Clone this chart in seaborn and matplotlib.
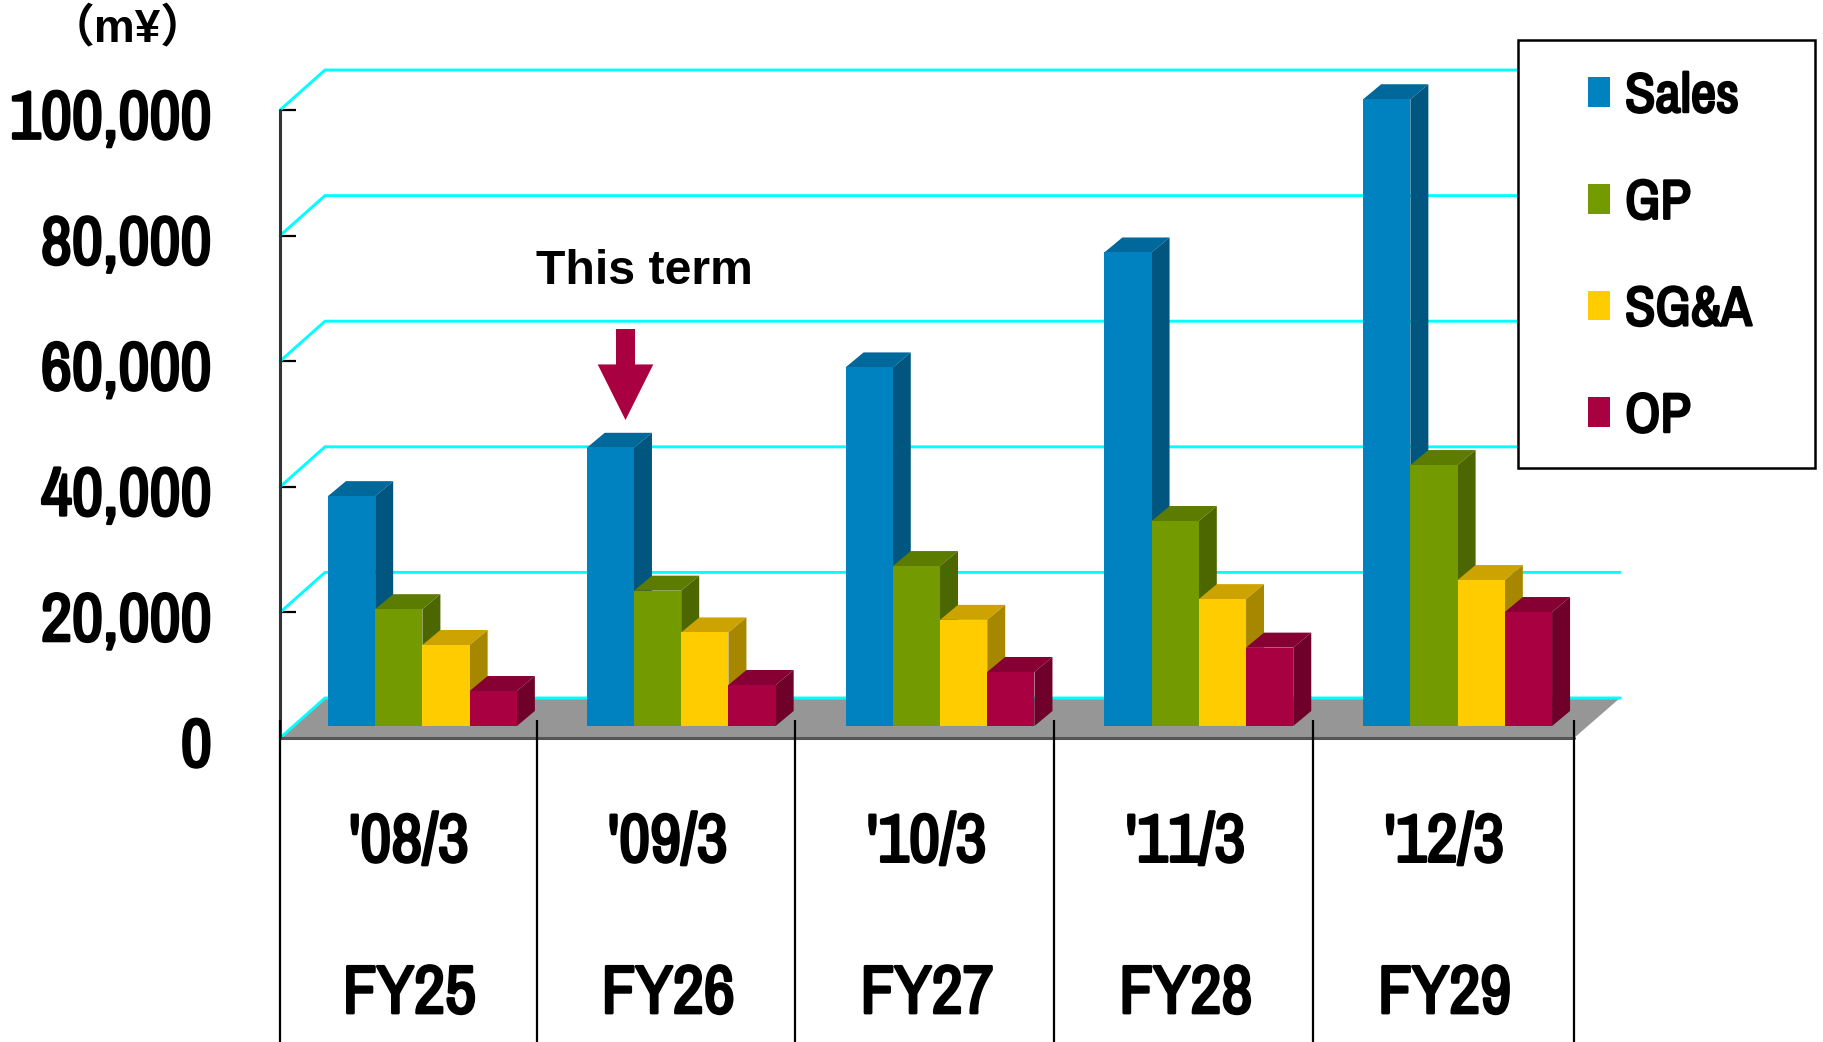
import matplotlib
matplotlib.use('Agg')
import matplotlib.pyplot as plt
import matplotlib.font_manager as fm
import matplotlib.patheffects as pe
from matplotlib.colors import to_rgb
from matplotlib.patches import Polygon, Rectangle
from matplotlib.transforms import Affine2D
import pandas as pd
import seaborn as sns

periods = ["'08/3", "'09/3", "'10/3", "'11/3", "'12/3"]
fiscal_years = ['FY25', 'FY26', 'FY27', 'FY28', 'FY29']
sales = [36600, 44300, 57100, 75400, 99800]
gp = [18600, 21550, 25470, 32640, 41550]
sga = [12900, 14900, 16900, 20200, 23240]
op = [5570, 6530, 8600, 12480, 18150]
series_names = ['Sales', 'GP', 'SG&A', 'OP']
series_colors = ['#0082C0', '#739B00', '#FFCC00', '#A80040']
y_ticks = [0, 20000, 40000, 60000, 80000, 100000]

df = pd.DataFrame({'period': periods, 'Sales': sales, 'GP': gp, 'SG&A': sga, 'OP': op})
long_df = df.melt(id_vars='period', var_name='series', value_name='value')

sns.set_theme(style='white')
# the labels in the original are a squeezed bold Arial, Archivo Narrow only has a regular
# weight here so it gets a stroke further down
names = {f.name for f in fm.fontManager.ttflist}
narrow = 'Archivo Narrow' if 'Archivo Narrow' in names else 'Liberation Sans'
plt.rcParams['font.family'] = narrow
plt.rcParams['text.color'] = 'black'
plt.rcParams['xtick.labelcolor'] = 'black'
plt.rcParams['ytick.labelcolor'] = 'black'


def embolden(text, lw=2.0):
    if narrow == 'Archivo Narrow':
        text.set_path_effects([pe.withStroke(linewidth=lw, foreground='black')])
    else:
        text.set_fontweight('bold')


W, H = 1823, 1042
fig = plt.figure(figsize=(W / 100, H / 100), dpi=100)
ax = fig.add_axes([280 / W, 1 - 738 / H, (1574 - 280) / W, (738 - 110) / H])

sns.barplot(data=long_df, x='period', y='value', hue='series', hue_order=series_names,
            palette=series_colors, width=0.73, saturation=1, linewidth=0, ax=ax)
ax.set_xlim(-0.5, 4.5)
ax.set_ylim(0, 100000)
ax.set_xlabel('')
ax.set_ylabel('')

px_x = 5 / 1294      # data units of one pixel
px_y = 100000 / 628
front_dx, front_dy = 13 * px_x, 12 * px_y     # bars stand a little behind the front edge
bar_dx, bar_dy = 18 * px_x, 15 * px_y         # depth of a bar
wall_dx, wall_dy = 45 * px_x, 40 * px_y       # depth of the floor
wall_right = -0.5 + 1340 * px_x


def shade(color, k):
    return tuple(c * k for c in to_rgb(color))


# floor and back wall lines
ax.add_patch(Polygon([(-0.5, 0), (4.5, 0), (wall_right, wall_dy), (-0.5 + wall_dx, wall_dy)],
                     closed=True, fc='#969696', ec='none', zorder=1, clip_on=False))
for v in y_ticks:
    ax.plot([-0.5, -0.5 + wall_dx, wall_right], [v, v + wall_dy, v + wall_dy],
            color='#00FFFF', lw=2.1, zorder=0.9 if v else 1.1, clip_on=False, solid_joinstyle='miter')
ax.plot([-0.5, 4.5], [0, 0], color='#555555', lw=2.2, zorder=1.2, clip_on=False)

# front faces come from seaborn, the top and side faces are built on them
for i, name in enumerate(series_names):
    container = ax.containers[i]
    for bar in container:
        bar.set_x(bar.get_x() + front_dx)
        bar.set_y(front_dy)
        bar.set_zorder(3 + i)
        bar.set_clip_on(False)
        x0, x1 = bar.get_x(), bar.get_x() + bar.get_width()
        y0, y1 = front_dy, front_dy + bar.get_height()
        ax.add_patch(Polygon([(x0, y1), (x1, y1), (x1 + bar_dx, y1 + bar_dy), (x0 + bar_dx, y1 + bar_dy)],
                             closed=True, fc=shade(series_colors[i], 0.8), ec='none', zorder=2.9 + i, clip_on=False))
        ax.add_patch(Polygon([(x1, y0), (x1, y1), (x1 + bar_dx, y1 + bar_dy), (x1 + bar_dx, y0 + bar_dy)],
                             closed=True, fc=shade(series_colors[i], 0.66), ec='none', zorder=2.9 + i, clip_on=False))

# axis
sns.despine(ax=ax, left=True, bottom=True, top=True, right=True)
ax.plot([-0.5, -0.5], [0, 100000], color='#333333', lw=2.2, zorder=1.3, clip_on=False)
ax.set_yticks(y_ticks)
ax.set_yticklabels([f'{v:,}' for v in y_ticks], fontsize=49)
ax.tick_params(axis='y', direction='in', length=11.5, width=1.6, color='black', pad=49, left=True)
for lab in ax.get_yticklabels():
    lab.set_verticalalignment('center_baseline')
    lab.set_zorder(10)
    lab.set_transform(lab.get_transform() + Affine2D().translate(0, -3.5))
    embolden(lab)

# table below the axis
ax.set_xticks(range(len(periods)))
ax.set_xticklabels(periods, fontsize=49)
ax.tick_params(axis='x', length=0, pad=53)
for lab in ax.get_xticklabels():
    embolden(lab)
for k in range(len(periods) + 1):
    nudge = 2.3 * px_x if 0 < k < len(periods) else 0
    ax.plot([k - 0.5 - nudge, k - 0.5 - nudge], [18 * px_y, -(H - 738) * px_y], color='black', lw=1.6,
            zorder=8, clip_on=False, solid_capstyle='butt')
for k, fy in enumerate(fiscal_years):
    embolden(ax.text(k, -256 * px_y, fy, ha='center', va='center', fontsize=49))

# annotations
ax.annotate('', xy=(0.835, 318 * px_y), xytext=(0.835, 409 * px_y),
            arrowprops=dict(facecolor='#A80040', edgecolor='none', width=13.7, headwidth=40,
                            headlength=40, shrink=0), zorder=9)
ax.text(0.91, 466.5 * px_y, 'This term', ha='center', va='center', fontsize=34.7, fontweight='bold',
        family='Liberation Sans')
fig.text(128 / W, 1 - 29 / H, '（m¥）', ha='center', va='center', fontsize=33, fontweight='bold',
         family=['Liberation Sans', 'Noto Sans CJK JP'])

# legend on its own white box
ax.add_patch(Rectangle((1518 / W, 1 - 468 / H), (1815 - 1518) / W, (468 - 40) / H,
                       transform=fig.transFigure, fc='white', ec='black', lw=1.8, zorder=20, clip_on=False))
handles, labels = ax.get_legend_handles_labels()
leg = ax.legend(handles, labels, loc='upper left', bbox_to_anchor=(1588 / W, 1 - 72 / H),
                bbox_transform=fig.transFigure, frameon=False,
                handlelength=0.396, handleheight=0.45, handletextpad=0.27, labelspacing=1.02,
                borderpad=0, borderaxespad=0, prop={'family': narrow, 'size': 40})
leg.set_zorder(21)
for lab in leg.get_texts():
    embolden(lab, 1.8)

fig.savefig('out.png', dpi=100, facecolor='white')
